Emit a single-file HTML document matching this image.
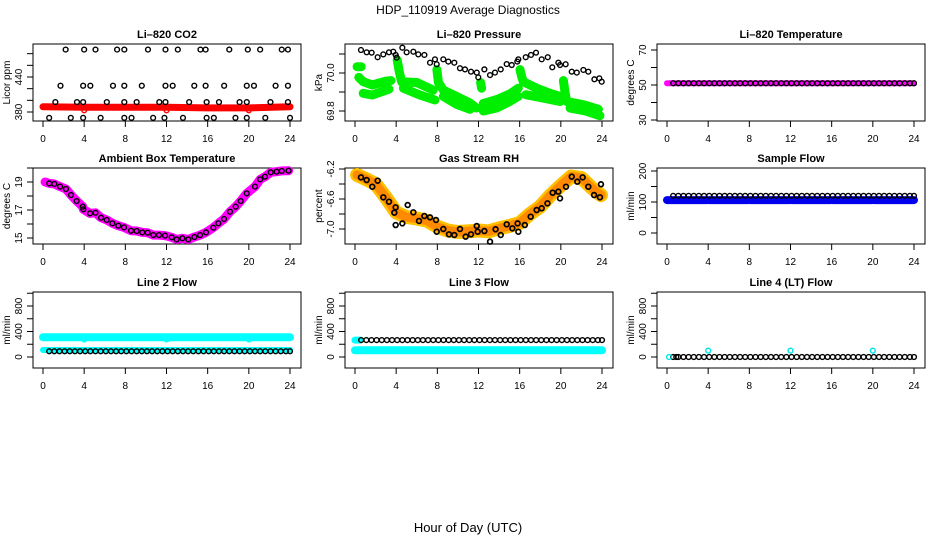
<!DOCTYPE html>
<html><head><meta charset="utf-8"><style>
html,body{margin:0;padding:0;background:#fff;}
svg text{font-family:"Liberation Sans",sans-serif;}
</style></head><body>
<svg id="chart" width="936" height="540" viewBox="0 0 936 540" xmlns="http://www.w3.org/2000/svg">
<text x="468" y="14" text-anchor="middle" font-size="12">HDP_110919  Average Diagnostics</text>
<text x="468" y="532" text-anchor="middle" font-size="13">Hour of Day (UTC)</text>
</svg>
<script>
// ---- data ----
const xTicks = [0,4,8,12,16,20,24];
const co2Hours = [2.2,4.0,5.1,7.2,7.9,10.2,11.9,13.1,15.3,15.8,18.1,19.9,21.1,23.2,23.8, 1.7,3.9,4.6,6.8,7.9,9.6,11.9,12.6,14.7,15.8,17.6,19.8,20.5,22.6,23.8, 1.2,3.3,3.9,6.2,7.9,9.1,11.3,11.9,14.2,15.9,17.1,19.1,19.8,22.1,23.8, 0.6,2.7,3.9,5.6,7.9,8.6,10.7,11.8,13.6,15.9,16.6,18.7,19.8,21.6,24];
const co2Vals = [487,487,487,487,487,487,487,487,487,487,487,487,487,487,487, 425,425,425,425,425,425,425,425,425,425,425,425,425,425,425, 397,397,397,397,397,397,397,397,397,397,397,397,397,397,397, 370,370,370,370,370,370,370,370,370,370,370,370,370,370,370];
const co2RedHours = [0,4,8,12,16,20,24];
const co2RedVals = [389,388,388,388,387,387,389];
const co2RedPtHours = [4,12,20];
const co2RedPtVals = [383,383,383];

const presHours = [0.58,1.13,1.62,2.2,2.75,3.3,3.72,3.95,4.05,4.6,5.02,5.67,6.15,6.74,7.29,7.77,7.94,8.58,9.07,9.65,10.2,10.69,11.27,11.83,11.98,12.57,13.12,13.6,14.16,14.74,15.23,15.77,15.87,16.59,17.1,17.59,18.14,18.73,19.17,19.76,19.92,20.47,21.06,21.55,22.19,22.67,23.26,23.74,23.97];
const presVals = [70.121,70.109,70.107,70.083,70.098,70.109,70.112,70.095,70.081,70.133,70.109,70.112,70.098,70.095,70.054,70.072,70.046,70.072,70.060,70.054,70.025,70.019,70.007,70.002,69.977,70.019,69.989,70.002,70.019,70.047,70.042,70.06,70.072,70.083,70.095,70.107,70.072,70.083,70.03,70.054,70.042,70.046,70.007,70.002,70.016,70.007,69.967,69.972,69.954];
const greenHours = [0.2,0.6,null, 0.37,0.81,1.67,2.53,2.97,3.5,null, 0.8,1.67,2.53,3.3,null, 4.1,4.3,4.53,6.0,7.6,null, 4.7,6.3,7.77,null, 7.96,8.1,8.58,9.88,11.17,11.8,null, 8.58,9.88,11.17,null, 12.2,12.3,null, 12.47,13.77,15.06,15.87,null, 12.47,13.77,15.06,15.87,null, 16.03,16.2,16.35,17.65,18.95,19.92,null, 16.6,18.1,19.92,null, 20.25,20.4,20.57,22.19,23.65,null, 20.9,22.4,23.8];
const greenVals = [70.033,70.033,null, 69.977,69.954,69.937,69.95,69.957,69.96,null, 69.893,69.884,69.9,69.915,null, 70.068,70.007,69.954,69.95,69.91,null, 69.92,69.884,69.858,null, 70.018,69.95,69.91,69.877,69.842,69.816,null, 69.877,69.835,69.809,null, 69.95,69.92,null, 69.8,69.816,69.851,69.877,null, 69.84,69.86,69.89,69.92,null, 70.018,69.98,69.954,69.92,69.893,69.877,null, 69.886,69.87,69.85,null, 69.96,69.9,69.85,69.833,69.809,null, 69.815,69.8,69.775];

const halfHours = [0.6,1.1,1.6,2.1,2.6,3.1,3.6,4.1,4.6,5.1,5.6,6.1,6.6,7.1,7.6,8.1,8.6,9.1,9.6,10.1,10.6,11.1,11.6,12.1,12.6,13.1,13.6,14.1,14.6,15.1,15.6,16.1,16.6,17.1,17.6,18.1,18.6,19.1,19.6,20.1,20.6,21.1,21.6,22.1,22.6,23.1,23.6,24];
const tempVals = [51,51,51,51,51,51,51,51,51,51,51,51,51,51,51,51,51,51,51,51,51,51,51,51,51,51,51,51,51,51,51,51,51,51,51,51,51,51,51,51,51,51,51,51,51,51,51,51];
const tempBandHours = [0,24];
const tempBandVals = [51,51];

const ambHours = [0.2,0.61,1.1,1.66,2.23,2.72,3.27,3.86,3.92,4.57,5.1,5.64,6.19,6.74,7.32,7.87,8.55,9.1,9.65,10.17,10.72,11.27,11.86,12.5,12.99,13.54,14.12,14.71,15.26,15.84,16.55,17.04,17.59,18.17,18.72,19.21,19.8,20.6,21.1,21.57,22.13,22.7,23.2,23.86];
const ambVals = [19.0,18.9,18.86,18.67,18.5,18.07,17.64,17.24,17.05,16.76,16.8,16.45,16.29,16.05,15.88,15.76,15.52,15.5,15.4,15.38,15.21,15.21,15.17,15.05,14.9,14.98,14.9,15.07,15.21,15.4,15.74,16.05,16.36,16.88,17.24,17.64,18.19,18.67,19.19,19.38,19.69,19.74,19.79,19.81];

const rhHours = [0.58,1.13,1.68,2.2,2.75,3.3,3.95,3.82,3.95,4.6,5.12,5.67,6.22,6.74,7.29,7.87,7.94,8.58,9.13,9.65,10.2,10.75,11.27,11.83,11.92,12.57,13.12,13.66,14.16,14.74,15.29,15.8,15.87,16.5,17.07,17.65,18.14,18.7,19.21,19.76,19.92,20.5,21.06,21.6,22.12,22.67,23.23,23.8,23.9];
const rhVals = [-6.311,-6.347,-6.436,-6.356,-6.578,-6.636,-6.711,-6.782,-6.947,-6.925,-6.68,-6.778,-6.893,-6.827,-6.845,-6.88,-7.036,-7.0,-7.071,-7.08,-7.0,-7.102,-7.071,-6.96,-7.036,-7.027,-7.169,-7.004,-7.08,-6.938,-6.991,-6.925,-7.036,-6.947,-6.836,-6.747,-6.724,-6.658,-6.516,-6.502,-6.591,-6.436,-6.302,-6.369,-6.311,-6.436,-6.547,-6.578,-6.404];
const rhBandHours = [0.2,1,2,3,4,5,6,7,8,9,10,11,12,13,14,15,16,17,18,19,20,21,22,23,23.9];
const rhBandVals = [-6.28,-6.33,-6.4,-6.58,-6.78,-6.84,-6.86,-6.89,-6.97,-7.02,-7.04,-7.03,-7.02,-7.03,-6.99,-6.96,-6.92,-6.8,-6.7,-6.55,-6.42,-6.3,-6.32,-6.45,-6.55];

const sampleVals = [120,120,120,120,120,120,120,120,120,120,120,120,120,120,120,120,120,120,120,120,120,120,120,120,120,120,120,120,120,120,120,120,120,120,120,120,120,120,120,120,120,120,120,120,120,120,120,120];
const blueHours = [0,3.9,null,4.1,7.9,null,8.1,11.9,null,12.1,15.9,null,16.1,19.9,null,20.1,24];
const blueVals = [106,106,null,106,106,null,106,106,null,106,106,null,106,106,null,106,106];

const l2Vals = [90,90,90,90,90,90,90,90,90,90,90,90,90,90,90,90,90,90,90,90,90,90,90,90,90,90,90,90,90,90,90,90,90,90,90,90,90,90,90,90,90,90,90,90,90,90,90,90];
const l2TopHours = [0,24];
const l2TopVals = [310,310];
const l2DipHours = [4,12,20];
const l2DipVals = [275,275,275];
const l2LowHours = [0,24];
const l2LowVals = [110,110];

const l3Vals = [265,265,265,265,265,265,265,265,265,265,265,265,265,265,265,265,265,265,265,265,265,265,265,265,265,265,265,265,265,265,265,265,265,265,265,265,265,265,265,265,265,265,265,265,265,265,265,265];
const l3TopHours = [0,0.5];
const l3TopVals = [265,265];
const l3LowHours = [0,24];
const l3LowVals = [105,105];

const l4Vals = [0,0,0,0,0,0,0,0,0,0,0,0,0,0,0,0,0,0,0,0,0,0,0,0,0,0,0,0,0,0,0,0,0,0,0,0,0,0,0,0,0,0,0,0,0,0,0,0,0];
const l4Hours = [0.6,1.1,1.6,2.1,2.6,3.1,3.6,4.1,4.6,5.1,5.6,6.1,6.6,7.1,7.6,8.1,8.6,9.1,9.6,10.1,10.6,11.1,11.6,12.1,12.6,13.1,13.6,14.1,14.6,15.1,15.6,16.1,16.6,17.1,17.6,18.1,18.6,19.1,19.6,20.1,20.6,21.1,21.6,22.1,22.6,23.1,23.6,24,0.9];
const l4CyanHours = [0.2,4,12,20];
const l4CyanVals = [0,100,100,100];

// ---- drawing ----
const NS = "http://www.w3.org/2000/svg";
const svg = document.getElementById('chart');
function mk(tag, attrs, parent){
  const e = document.createElementNS(NS, tag);
  for (const k in attrs) e.setAttribute(k, attrs[k]);
  (parent||svg).appendChild(e);
  return e;
}
function makePanel(p){
  const g = mk('g', {});
  
  
  const xs = h => p.x0 + (h/24)*(p.x1 - p.x0);
  const ys = v => p.ya + (v - p.va)*(p.yb - p.ya)/(p.vb - p.va);
  const t = mk('text', {x:(p.L+p.R)/2, y:p.T-6, 'text-anchor':'middle', 'font-size':11, 'font-weight':'bold'}, g);
  t.textContent = p.title;
  
  
  const box = mk('rect', {x:p.L, y:p.T, width:p.R-p.L, height:p.B-p.T, fill:'none', stroke:'#000', 'stroke-width':1}, g);
  
  
  xTicks.forEach(h => {
    const x = xs(h);
    mk('line', {x1:x, x2:x, y1:p.B, y2:p.B+6, stroke:'#000'}, g);
    const lt = mk('text', {x:x, y:p.B+21, 'text-anchor':'middle', 'font-size':10}, g);
    lt.textContent = h;
    
    
  });
  p.yTicks.forEach(v => {
    const y = ys(v);
    mk('line', {x1:p.L-6, x2:p.L, y1:y, y2:y, stroke:'#000'}, g);
  });
  p.yLabels.forEach(v => {
    const y = ys(v);
    const lt = mk('text', {x:p.L-11, y:y, 'text-anchor':'middle', 'font-size':10, transform:`rotate(-90 ${p.L-11} ${y})`}, g);
    lt.textContent = v.toFixed(p.dec||0);
    
    
  });
  const yt = mk('text', {x:p.L-23, y:(p.T+p.B)/2, 'text-anchor':'middle', 'font-size':10, transform:`rotate(-90 ${p.L-23} ${(p.T+p.B)/2})`}, g);
  yt.textContent = p.ylab;
  
  
  const cg = mk('g', {}, g);
  return {g: cg, xs, ys};
}
function band(P, hrs, vals, color, w, name){
  let d = '', pen = false;
  hrs.forEach((h,i) => {
    if (h === null || vals[i] === null){ pen = false; return; }
    d += (pen ? 'L' : 'M') + P.xs(h).toFixed(1) + ' ' + P.ys(vals[i]).toFixed(1) + ' ';
    pen = true;
  });
  const e = mk('path', {d:d, fill:'none', stroke:color, 'stroke-width':w, 'stroke-linecap':'round', 'stroke-linejoin':'round'}, P.g);
  
  
}
function pts(P, hrs, vals, color, name, sw){
  hrs.forEach((h,i) => {
    if (vals[i] === undefined) return;
    const c = mk('circle', {cx:P.xs(h), cy:P.ys(vals[i]), r:2.4, fill:'none', stroke:color, 'stroke-width':sw||1.4}, P.g);
    
    
  });
}
const colsX = [[33,301,43,290],[345,613,355,602],[657,925,667,914]];
const rowsY = [[44,121],[168,244],[292,368]];
function geo(c, r){ return {L:colsX[c][0], R:colsX[c][1], x0:colsX[c][2], x1:colsX[c][3], T:rowsY[r][0], B:rowsY[r][1]}; }

let P;
P = makePanel(Object.assign(geo(0,0), {name:'panel-li820-co2', title:'Li\u2013820 CO2', ylab:'Licor ppm', va:380, ya:112, vb:440, yb:77, yTicks:[380,400,420,440,460,480], yLabels:[380,440]}));
band(P, co2RedHours, co2RedVals, '#ff0000', 7, 'co2-red-band');
pts(P, co2RedPtHours, co2RedPtVals, '#ff0000', 'co2-red-point');
pts(P, co2Hours, co2Vals, '#000', 'co2-point');

P = makePanel(Object.assign(geo(1,0), {name:'panel-li820-pressure', title:'Li\u2013820 Pressure', ylab:'kPa', va:70.0, ya:73, vb:69.8, yb:111, yTicks:[69.8,69.9,70.0,70.1], yLabels:[69.8,70.0], dec:1}));
band(P, greenHours, greenVals, '#00ee00', 9, 'pressure-green-band');
pts(P, presHours, presVals, '#000', 'pressure-point');

P = makePanel(Object.assign(geo(2,0), {name:'panel-li820-temperature', title:'Li\u2013820 Temperature', ylab:'degrees C', va:70, ya:50, vb:30, yb:120, yTicks:[30,40,50,60,70], yLabels:[30,50,70]}));
band(P, tempBandHours, tempBandVals, '#ff00ff', 6, 'temp-magenta-band');
pts(P, halfHours, tempVals, '#000', 'temp-point');

P = makePanel(Object.assign(geo(0,1), {name:'panel-ambient-box-temperature', title:'Ambient Box Temperature', ylab:'degrees C', va:19, ya:182, vb:15, yb:238, yTicks:[15,16,17,18,19,20], yLabels:[15,17,19]}));
band(P, ambHours, ambVals, '#ff00ff', 9, 'ambient-magenta-band');
pts(P, ambHours.slice(1), ambVals.slice(1), '#000', 'ambient-point');

P = makePanel(Object.assign(geo(1,1), {name:'panel-gas-stream-rh', title:'Gas Stream RH', ylab:'percent', va:-6.2, ya:169, vb:-7.0, yb:229, yTicks:[-7.0,-6.8,-6.6,-6.4,-6.2], yLabels:[-7.0,-6.6,-6.2], dec:1}));
band(P, rhBandHours, rhBandVals, '#ffc000', 14, 'rh-yellow-band');
band(P, rhBandHours, rhBandVals, '#ff8a00', 9, 'rh-orange-band');
pts(P, rhHours, rhVals, '#000', 'rh-point', 1.7);

P = makePanel(Object.assign(geo(2,1), {name:'panel-sample-flow', title:'Sample Flow', ylab:'ml/min', va:200, ya:171, vb:0, yb:233, yTicks:[0,50,100,150,200], yLabels:[0,100,200]}));
band(P, blueHours, blueVals, '#0000ee', 8, 'sample-blue-band');
pts(P, halfHours, sampleVals, '#000', 'sample-point');

const flowTicks = [0,200,400,600,800,1000];
P = makePanel(Object.assign(geo(0,2), {name:'panel-line2-flow', title:'Line 2 Flow', ylab:'ml/min', va:0, ya:357, vb:800, yb:306, yTicks:flowTicks, yLabels:[0,400,800]}));
band(P, l2TopHours, l2TopVals, '#00ffff', 8, 'line2-cyan-top-band');
pts(P, l2DipHours, l2DipVals, '#00ffff', 'line2-cyan-point');
band(P, l2LowHours, l2LowVals, '#00ffff', 6, 'line2-cyan-low-band');
pts(P, halfHours, l2Vals, '#000', 'line2-point');

P = makePanel(Object.assign(geo(1,2), {name:'panel-line3-flow', title:'Line 3 Flow', ylab:'ml/min', va:0, ya:357, vb:800, yb:306, yTicks:flowTicks, yLabels:[0,400,800]}));
band(P, l3TopHours, l3TopVals, '#00ffff', 7, 'line3-cyan-top-band');
band(P, l3LowHours, l3LowVals, '#00ffff', 8, 'line3-cyan-low-band');
pts(P, halfHours, l3Vals, '#000', 'line3-point');

P = makePanel(Object.assign(geo(2,2), {name:'panel-line4-flow', title:'Line 4 (LT) Flow', ylab:'ml/min', va:0, ya:357, vb:800, yb:306, yTicks:flowTicks, yLabels:[0,400,800]}));
pts(P, l4Hours, l4Vals, '#000', 'line4-point');
pts(P, l4CyanHours, l4CyanVals, '#00e5e5', 'line4-cyan-point');
</script>
</body></html>
